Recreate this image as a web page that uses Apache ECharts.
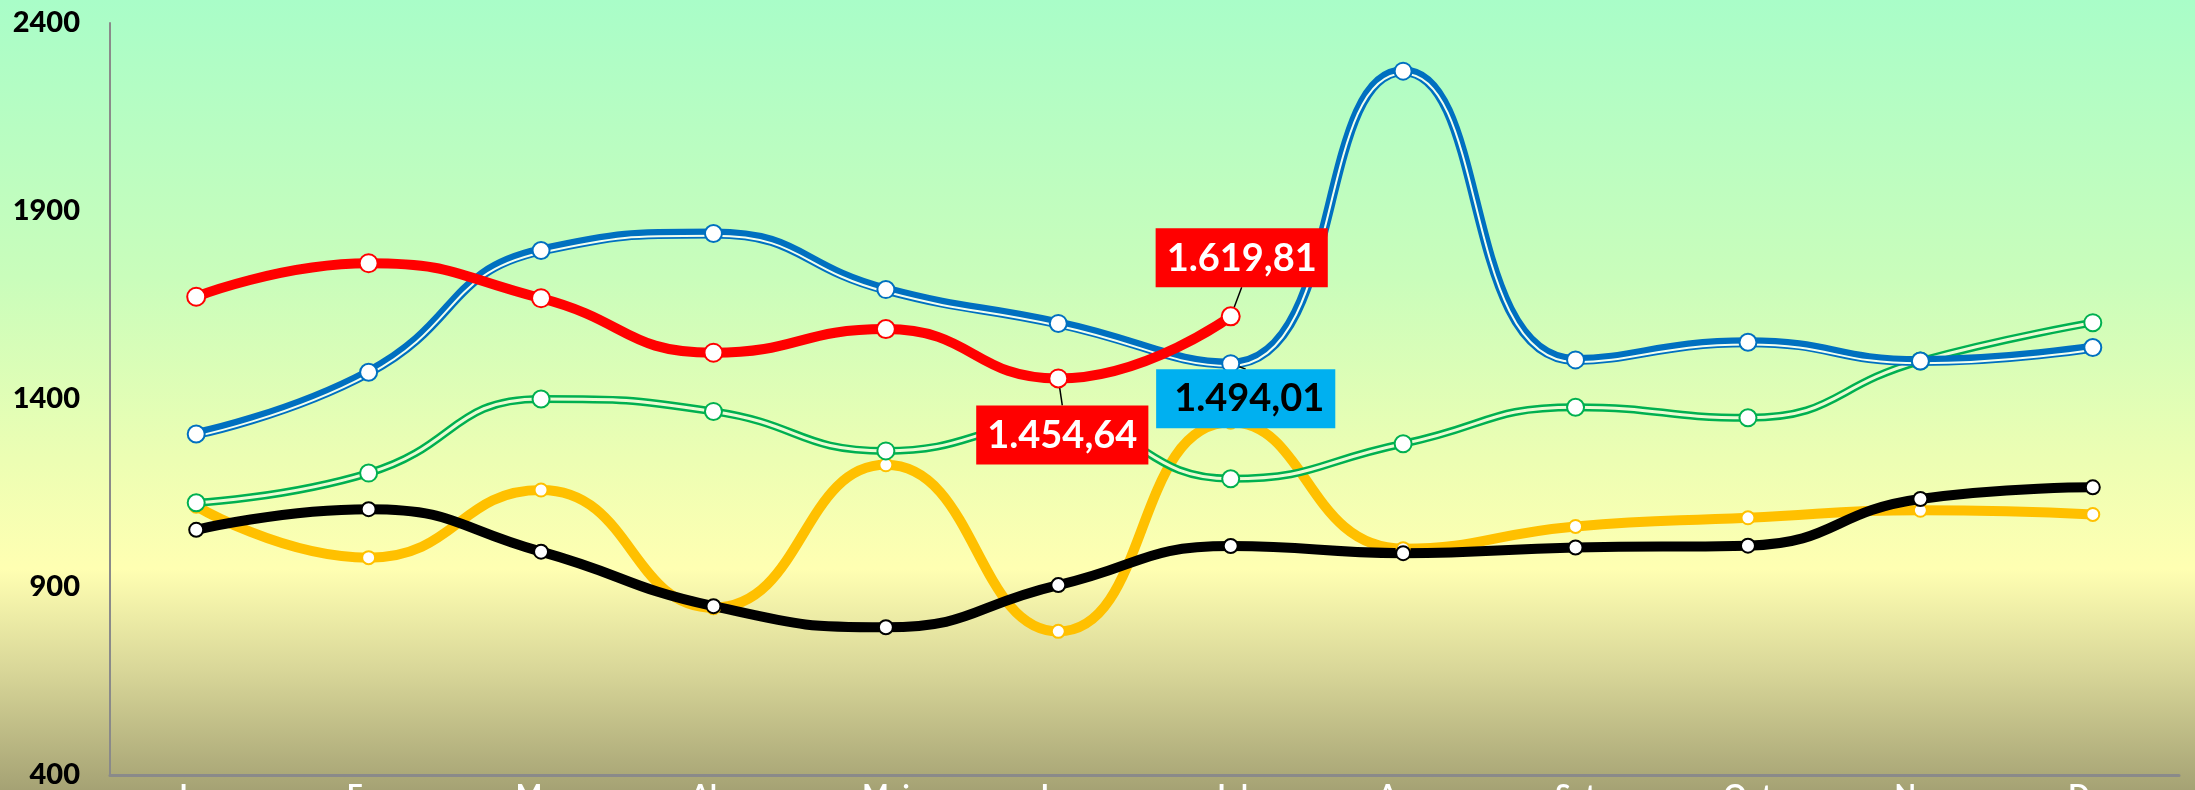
<!DOCTYPE html>
<html>
<head>
<meta charset="utf-8">
<script src="https://cdn.jsdelivr.net/npm/echarts@6/dist/echarts.min.js"></script>
<style>
  html, body { margin: 0; padding: 0; }
  #chart { width: 2195px; height: 790px; }
</style>
</head>
<body>
<div id="chart"></div>
<script>
// months (Portuguese)
const months = ['Jan', 'Fev', 'Mar', 'Abr', 'Mai', 'Jun', 'Jul', 'Ago', 'Set', 'Out', 'Nov', 'Dez'];

// series values
const redValues    = [1672, 1761, 1668, 1523, 1586, 1454.64, 1619.81];
const blueValues   = [1307, 1471, 1795, 1840, 1691, 1601, 1494.01, 2272, 1504, 1551, 1501, 1537];
const greenValues  = [1124, 1203, 1400, 1367, 1262, 1335, 1188, 1281, 1378, 1350, 1501, 1603];
const yellowValues = [1115, 978, 1158, 845, 1225, 782, 1338, 1002, 1061, 1084, 1104, 1093];
const blackValues  = [1052, 1107, 994, 849, 793, 905, 1009, 990, 1005, 1010, 1134, 1165];

const yTicks = { min: 400, max: 2400, interval: 500 };

const fontFam = 'Lato, "Noto Sans", sans-serif';
const smooth = 0.5;
// the thin stripe of the blue "thick-thin" line sits a little below centre:
// a hidden twin axis shifted by a few units draws it ~2px lower
const stripeShift = 6;

// format like 1.619,81
const fmt = v => {
  const parts = v.toFixed(2).split('.');
  return parts[0].replace(/\B(?=(\d{3})+(?!\d))/g, '.') + ',' + parts[1];
};

const chart = echarts.init(document.getElementById('chart'));

const marker = (border, size) => ({
  symbol: 'circle',
  symbolSize: size,
  itemStyle: { color: '#fff', borderColor: border, borderWidth: 2 }
});

const boxLabel = (bg, fg) => ({
  show: true,
  formatter: p => fmt(p.value),
  backgroundColor: bg,
  color: fg,
  fontFamily: fontFam,
  fontWeight: 'bold',
  fontSize: 38,
  lineHeight: 44,
  padding: [8, 11, 7, 11]
});

// labelled points: red Jun / Jul, blue Jul
const redData = redValues.map((v, i) => {
  if (i === 5) return { value: v, label: Object.assign(boxLabel('#ff0000', '#fff'), { position: 'bottom' }) };
  if (i === 6) return { value: v, label: Object.assign(boxLabel('#ff0000', '#fff'), { position: 'top' }) };
  return v;
});
const blueData = blueValues.map((v, i) => {
  if (i === 6) return { value: v, label: Object.assign(boxLabel('#00b0f0', '#000'), { position: 'bottom', padding: [8, 11, 7, 18] }) };
  return v;
});

const option = {
  backgroundColor: {
    type: 'linear', x: 0, y: 0, x2: 0, y2: 1,
    colorStops: [
      { offset: 0, color: '#a9fdc8' },
      { offset: 0.35, color: '#c9fdbb' },
      { offset: 0.58, color: '#ecfeb3' },
      { offset: 0.72, color: '#ffffb2' },
      { offset: 0.85, color: '#d8d698' },
      { offset: 1, color: '#a5a274' }
    ]
  },
  animation: false,
  grid: { left: 110, right: 16, top: 23, bottom: 15, outerBoundsMode: 'none', containLabel: false },
  xAxis: {
    type: 'category',
    data: months,
    boundaryGap: true,
    axisLine: { lineStyle: { color: '#8a8a8a', width: 3 } },
    axisTick: { show: false },
    axisLabel: { color: '#fff', fontFamily: fontFam, fontWeight: 'bold', fontSize: 28, margin: 7 }
  },
  yAxis: [{
    type: 'value',
    min: yTicks.min,
    max: yTicks.max,
    interval: yTicks.interval,
    axisLine: { show: true, lineStyle: { color: '#8a8a8a', width: 2 } },
    axisTick: { show: false },
    splitLine: { show: false },
    axisLabel: {
      color: '#000', fontFamily: fontFam, fontWeight: 900, fontSize: 29, margin: 30,
      formatter: v => String(v)
    }
  }, {
    type: 'value',
    show: false,
    min: yTicks.min + stripeShift,
    max: yTicks.max + stripeShift,
    splitLine: { show: false }
  }],
  series: [
    // yellow
    Object.assign({
      name: 'amarelo', type: 'line', smooth: smooth, data: yellowValues,
      lineStyle: { color: '#ffc000', width: 10 }, z: 2
    }, marker('#ffc000', 13)),
    // green double line
    {
      name: 'verde', type: 'line', smooth: smooth, data: greenValues, showSymbol: false,
      lineStyle: { color: '#00b050', width: 8 }, z: 2
    },
    Object.assign({
      name: 'verde2', type: 'line', smooth: smooth, data: greenValues,
      lineStyle: { color: '#eafcd2', width: 3 }, z: 2
    }, marker('#00b050', 17)),
    // black
    Object.assign({
      name: 'preto', type: 'line', smooth: smooth, data: blackValues,
      lineStyle: { color: '#000', width: 10 }, z: 2
    }, marker('#000', 14)),
    // blue thick-thin line
    {
      name: 'azul', type: 'line', smooth: smooth, data: blueValues, showSymbol: false,
      lineStyle: { color: '#0070c0', width: 10 }, z: 2
    },
    {
      name: 'azul-risca', type: 'line', smooth: smooth, data: blueValues, showSymbol: false,
      yAxisIndex: 1,
      lineStyle: { color: '#f2fff0', width: 2 }, z: 2
    },
    Object.assign({
      name: 'azul-pontos', type: 'line', smooth: smooth, data: blueData,
      lineStyle: { opacity: 0 }, z: 3,
      labelLine: { show: true, lineStyle: { color: '#000', width: 1.5 } },
      labelLayout: p => (p.dataIndex === 6 ? { dx: 15, dy: -9 } : {})
    }, marker('#0070c0', 17)),
    // red
    Object.assign({
      name: 'vermelho', type: 'line', smooth: smooth, data: redData,
      lineStyle: { color: '#ff0000', width: 10 }, z: 4,
      labelLine: { show: true, lineStyle: { color: '#000', width: 1.5 } },
      labelLayout: p => {
        if (p.dataIndex === 6) return { dx: 11, dy: -14 };
        if (p.dataIndex === 5) return { dx: 4, dy: 12 };
        return {};
      }
    }, marker('#ff0000', 18))
  ]
};

chart.setOption(option);
</script>
</body>
</html>
